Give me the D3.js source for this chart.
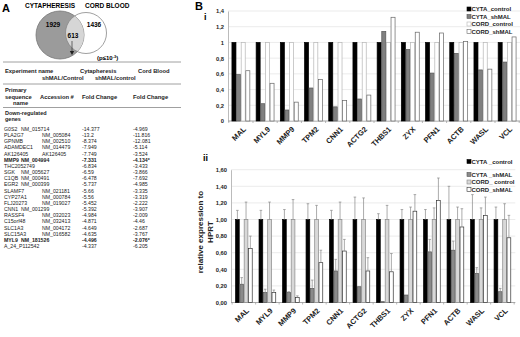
<!DOCTYPE html>
<html>
<head>
<meta charset="UTF-8">
<script src="https://cdn.jsdelivr.net/npm/d3@7"></script>
<style>
  body { margin: 0; background: #fff; }
  svg { font-family: "Liberation Sans", Arial, sans-serif; }
</style>
</head>
<body>
<svg id="fig" width="520" height="337"></svg>
<script>
// ---- panel A data
var vennCounts = [1929, 613, 1436];
var tableGenes = ["G0S2","PLA2G7","GPNMB","ADAMDEC1","AK126405","MMP9","THC2052749","SGK","C1QB","EGR2",
                  "SLAMF7","CYP27A1","FLJ20273","CNN1","RASSF4","C15orf48","SLC1A3","SLC15A3","MYL9","A_24_P112542"];
var tableAccession = ["NM_015714","NM_005084","NM_002510","NM_014479","AK126405","NM_004994","","NM_005627","NM_000491","NM_000399",
                      "NM_021181","NM_000784","NM_019027","NM_001299","NM_032023","NM_032413","NM_004172","NM_016582","NM_181526",""];
var tableCyta = ["-14.377","-13.2","-8.374","-7.949","-7.749","-7.331","-6.834","-6.59","-6.478","-5.737",
                 "-5.66","-5.56","-5.452","-5.392","-4.984","-4.871","-4.649","-4.635","-4.496","-4.337"];
var tableCord = ["-4.969","-11.816","-12.081","-5.114","-3.524","-4.134*","-3.433","-3.866","-7.692","-4.985",
                 "-3.335","-3.319","-2.222","-3.907","-2.009","-4.46","-2.687","-3.767","-2.076*","-6.205"];
var boldGenes = ["MMP9", "MYL9"];

// ---- panel B data
var genes = ["MAL","MYL9","MMP9","TPM2","CNN1","ACTG2","THBS1","ZYX","PFN1","ACTB","WASL","VCL"];
var legendI = ["CYTA_control","CYTA_shMAL","CORD_control","CORD_shMAL"];
var legendII = ["CYTA _control","CYTA _shMAL","CORD_ control","CORD_shMAL"];

var iCytaControl = [1,1,1,1,1,1,1,1,1,1,1,1];
var iCytaShMAL   = [0.59,0.22,0.14,0.42,0.18,0.28,1.14,0.91,0.61,0.86,0.65,0.75];
var iCordControl = [1,1,1,1,1,1,1,1,1,1,1,1];
var iCordShMAL   = [0.64,0.48,0.24,0.53,0.26,0.33,1.32,1.13,1.12,1.01,0.66,1.07];

var iiCytaControl = [1,1,1,1,1,1,1,1,1,1,1,1];
var iiCytaShMAL   = [0.22,0.12,0.12,0.17,0.38,0.19,0.01,0.09,0.61,0.63,0.35,0.13];
var iiCordControl = [1,1,1,1,1,1,1,1,1,1,1,1];
var iiCordShMAL   = [0.65,0.12,0.06,0.48,0.62,0.38,0.37,1.10,1.23,0.91,1.05,0.78];
var iiCytaControlErr = [0.11,0.11,0.12,0.19,0.11,0.27,0.07,0.12,0.12,0.40,0.30,0.15];
var iiCytaShMALErr   = [0.08,0.04,0.01,0.10,0.14,0.00,0.00,0.00,0.15,0.11,0.07,0.04];
var iiCordControlErr = [0.21,0.21,0.24,0.17,0.21,0.26,0.17,0.15,0.14,0.15,0.14,0.19];
var iiCordShMALErr   = [0.15,0.03,0.02,0.15,0.14,0.16,0.22,0.20,0.27,0.22,0.22,0.27];

var ticksI = [0,0.2,0.4,0.6,0.8,1,1.2,1.4];
var ticksII = [0,0.2,0.4,0.6,0.8,1,1.2,1.4,1.6];

var svg = d3.select("#fig");
var fmtI = function(v) { return d3.format(".1~f")(v).replace(".", ","); };
var fmtII = function(v) { return d3.format(".2f")(v).replace(".", ","); };

// ================= panel A =================
var gA = svg.append("g");
gA.append("text").attr("x", 2).attr("y", 12).attr("font-size", 11).attr("font-weight", "bold").text("A");
gA.append("text").attr("x", 25).attr("y", 8).attr("font-size", 6.5).attr("font-weight", "bold").text("CYTAPHERESIS");
gA.append("text").attr("x", 85).attr("y", 8).attr("font-size", 6.5).attr("font-weight", "bold").text("CORD BLOOD");

var leftC = {cx: 60, cy: 35, r: 24}, rightC = {cx: 86, cy: 33, r: 20.5};
gA.append("clipPath").attr("id", "clipR").append("circle")
  .attr("cx", rightC.cx).attr("cy", rightC.cy).attr("r", rightC.r);
gA.append("circle").attr("cx", leftC.cx).attr("cy", leftC.cy).attr("r", leftC.r)
  .attr("fill", "#9b9b9b").attr("stroke", "#777").attr("stroke-width", 0.8);
gA.append("circle").attr("cx", leftC.cx).attr("cy", leftC.cy).attr("r", leftC.r)
  .attr("clip-path", "url(#clipR)").attr("fill", "#d6d6d6");
gA.append("circle").attr("cx", rightC.cx).attr("cy", rightC.cy).attr("r", rightC.r)
  .attr("fill", "none").attr("stroke", "#888").attr("stroke-width", 0.8);

var vennPos = [[53, 27], [73, 38], [94, 27]];
gA.selectAll("text.venn").data(vennCounts).enter().append("text")
  .attr("class", "venn")
  .attr("x", function(d, i) { return vennPos[i][0]; })
  .attr("y", function(d, i) { return vennPos[i][1]; })
  .attr("text-anchor", "middle").attr("font-size", 6.5).attr("font-weight", "bold")
  .text(function(d) { return d; });

gA.append("line").attr("x1", 72).attr("x2", 72).attr("y1", 41).attr("y2", 52)
  .attr("stroke", "#333").attr("stroke-width", 0.7);
gA.append("path").attr("d", "M69.8,51 L74.2,51 L72,55 Z").attr("fill", "#222");
var pt = gA.append("text").attr("x", 97).attr("y", 60).attr("font-size", 6).attr("font-weight", "bold");
pt.append("tspan").text("(p≤10");
pt.append("tspan").attr("dy", -2.5).attr("font-size", 4).text("-3");
pt.append("tspan").attr("dy", 2.5).text(")");

[62, 84, 107.5].forEach(function(y) {
  gA.append("line").attr("x1", 3).attr("x2", 181).attr("y1", y).attr("y2", y)
    .attr("stroke", "#888").attr("stroke-width", 0.8);
});

function tx(x, y, s, size, bold) {
  return gA.append("text").attr("x", x).attr("y", y).attr("font-size", size || 5.5)
    .attr("font-weight", bold ? "bold" : "normal").attr("fill", "#222").text(s);
}
tx(5, 73, "Experiment name", 5.8, true);
tx(80, 73, "Cytapheresis", 5.8, true);
tx(138, 73, "Cord Blood", 5.8, true);
tx(42, 80, "shMAL/Control", 5.8, true);
tx(95, 80, "shMAL/control", 5.8, true);
tx(5, 92, "Primary", 5.8, true);
tx(5, 99, "sequence", 5.8, true);
tx(40, 99, "Accession #", 5.8, true);
tx(82, 99, "Fold Change", 5.8, true);
tx(133, 99, "Fold Change", 5.8, true);
tx(13, 105, "name", 5.8, true);
tx(5, 115, "Down-regulated", 5.5, true);
tx(5, 121, "genes", 5.5, true);

var rowY = d3.scalePoint().domain(d3.range(tableGenes.length)).range([131, 248]);
tableGenes.forEach(function(g, i) {
  var b = boldGenes.indexOf(g) >= 0;
  var y = rowY(i);
  tx(4, y, g, 5.2, b);
  if (tableAccession[i]) tx(g.length <= 4 ? 21 : 42, y, tableAccession[i], 5.2, b);
  tx(82, y, tableCyta[i], 5.2, b);
  tx(133, y, tableCord[i], 5.2, b);
});

// ================= panel B =================
svg.append("text").attr("x", 195).attr("y", 10).attr("font-size", 11).attr("font-weight", "bold").text("B");

var fills = ["#000", "#808080", "#fff", "#fff"];
var strokesI = ["#000", "#555", "#b5b5b5", "#666"];
var fillsII = ["#000", "#8a8a8a", "#d8d8d8", "#fff"];
var strokesII = ["#000", "#555", "#888", "#333"];

function drawPanel(opt) {
  var g = svg.append("g");
  var x = d3.scaleBand().domain(genes).range(opt.xr).paddingInner(opt.pi).paddingOuter(opt.po);
  var xs = d3.scaleBand().domain(d3.range(4)).range([0, x.bandwidth()]);
  var y = d3.scaleLinear().domain([0, opt.max]).range(opt.yr);

  // grid
  g.selectAll("line.grid").data(opt.ticks).enter().append("line")
    .attr("x1", opt.xr[0]).attr("x2", opt.xr[1])
    .attr("y1", function(d) { return y(d); }).attr("y2", function(d) { return y(d); })
    .attr("stroke", "#e2e2e2").attr("stroke-width", 0.7);

  var ya = g.append("g").attr("transform", "translate(" + opt.xr[0] + ",0)")
    .call(d3.axisLeft(y).tickValues(opt.ticks).tickFormat(opt.fmt).tickSize(0).tickPadding(4));
  ya.select(".domain").attr("stroke", "#bbb");
  ya.selectAll("text").attr("font-size", 5.8).attr("font-weight", "bold").attr("fill", "#222")
    .attr("font-family", "Liberation Sans, Arial, sans-serif");

  g.append("line").attr("x1", opt.xr[0]).attr("x2", opt.xr[1]).attr("y1", y(0)).attr("y2", y(0))
    .attr("stroke", "#999").attr("stroke-width", 0.8);
  // ticks between groups
  var step = x.step();
  d3.range(genes.length + 1).forEach(function(i) {
    var xx = x(genes[0]) - (step - x.bandwidth()) / 2 + i * step;
    g.append("line").attr("x1", xx).attr("x2", xx).attr("y1", y(0)).attr("y2", y(0) + 2)
      .attr("stroke", "#999").attr("stroke-width", 0.7);
  });

  opt.series.forEach(function(vals, s) {
    g.selectAll("rect.s" + s).data(vals).enter().append("rect")
      .attr("x", function(d, i) { return x(genes[i]) + xs(s) + 0.3; })
      .attr("width", xs.bandwidth() - 0.6)
      .attr("y", function(d) { return y(d); })
      .attr("height", function(d) { return y(0) - y(d); })
      .attr("fill", opt.fills[s]).attr("stroke", opt.strokes[s]).attr("stroke-width", 0.7);
    if (opt.errs) {
      var errs = opt.errs[s];
      vals.forEach(function(v, i) {
        if (errs[i] <= 0) return;
        var cx = x(genes[i]) + xs(s) + xs.bandwidth() / 2;
        g.append("line").attr("x1", cx).attr("x2", cx).attr("y1", y(v)).attr("y2", y(v + errs[i]))
          .attr("stroke", "#888").attr("stroke-width", 0.7);
        g.append("line").attr("x1", cx - 1.3).attr("x2", cx + 1.3)
          .attr("y1", y(v + errs[i])).attr("y2", y(v + errs[i]))
          .attr("stroke", "#888").attr("stroke-width", 0.7);
      });
    }
  });

  // gene labels
  g.selectAll("text.gene").data(genes).enter().append("text")
    .attr("transform", function(d) {
      return "translate(" + (x(d) + x.bandwidth() / 2 + 2) + "," + (y(0) + 5) + ") rotate(-45)";
    })
    .attr("text-anchor", "end").attr("dy", "0.7em")
    .attr("font-size", 7.5).attr("font-weight", "bold").attr("fill", "#222")
    .text(function(d) { return d; });

  // legend
  opt.legend.forEach(function(name, i) {
    var ly = opt.legendY[i];
    g.append("rect").attr("x", 467).attr("y", ly - 4).attr("width", 4).attr("height", 4)
      .attr("fill", opt.fills[i]).attr("stroke", opt.strokes[i]).attr("stroke-width", 0.6);
    g.append("text").attr("x", 471.5).attr("y", ly).attr("font-size", 6).attr("font-weight", "bold")
      .attr("fill", "#222").text(name);
  });

  g.append("text").attr("x", opt.label[0]).attr("y", opt.label[1]).attr("font-size", 9)
    .attr("font-weight", "bold").text(opt.labelText);
}

drawPanel({
  xr: [228, 520], pi: 0.235, po: 0.15, yr: [121, 11], max: 1.4, ticks: ticksI, fmt: fmtI,
  series: [iCytaControl, iCytaShMAL, iCordControl, iCordShMAL],
  fills: fills, strokes: strokesI, legend: legendI, legendY: [11, 18.5, 26, 33.5],
  label: [204, 20], labelText: "i"
});

drawPanel({
  xr: [231, 515.3], pi: 0.264, po: 0.18, yr: [302.5, 169.7], max: 1.6, ticks: ticksII, fmt: fmtII,
  series: [iiCytaControl, iiCytaShMAL, iiCordControl, iiCordShMAL],
  errs: [iiCytaControlErr, iiCytaShMALErr, iiCordControlErr, iiCordShMALErr],
  fills: fillsII, strokes: strokesII, legend: legendII, legendY: [163.5, 176.5, 184, 191.5],
  label: [203, 161], labelText: "ii"
});

// y axis title of panel ii
var yt = svg.append("text").attr("transform", "translate(203,232) rotate(-90)")
  .attr("text-anchor", "middle").attr("font-size", 8).attr("font-weight", "bold").attr("fill", "#222");
yt.append("tspan").attr("x", 0).attr("dy", 0).text("relative expression to");
yt.append("tspan").attr("x", 0).attr("dy", 10).text("HPRT");
</script>
</body>
</html>
